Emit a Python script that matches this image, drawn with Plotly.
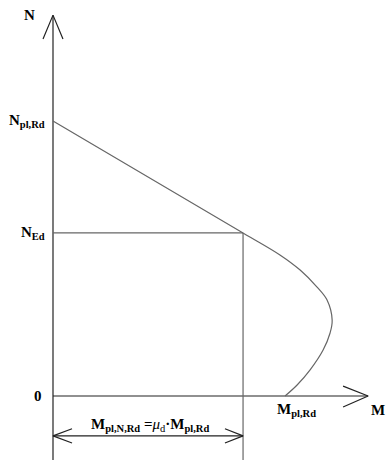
import plotly.graph_objects as go

# N-M interaction curve, normalised: M / Mpl,Rd and N / Npl,Rd
CURVE_M = [0.0, 0.819, 0.978, 1.065, 1.138, 1.181, 1.203, 1.194, 1.164, 1.108, 1.052, 1.0]
CURVE_N = [1.0, 0.593, 0.513, 0.458, 0.396, 0.349, 0.276, 0.229, 0.167, 0.095, 0.040, 0.0]
N_ED = 0.593          # design axial force
M_NRD = 0.819         # reduced plastic moment at N_ED
M_PL = 1.0
N_PL = 1.0

X_RANGE = [-0.2284, 1.435]
Y_RANGE = [-0.2327, 1.44]
N_TIP, M_TIP = 1.385, 1.358
DIM_N = -0.145

AX, LN = '#222222', '#666666'
FONT = 'Liberation Serif'

fig = go.Figure()


def seg(xs, ys, col=AX, w=1.2, shape='linear'):
    fig.add_trace(go.Scatter(x=xs, y=ys, mode='lines', line=dict(color=col, width=w, shape=shape),
                             hoverinfo='skip', showlegend=False))


# axes with open arrow heads
seg([0, 0], [Y_RANGE[0], N_TIP])
seg([-0.043, 0, 0.043], [1.298, N_TIP, 1.298])
seg([0, M_TIP], [0, 0])
seg([1.25, M_TIP, 1.25], [0.036, 0, -0.04])

# interaction curve
seg(CURVE_M, CURVE_N, col=LN, w=1.2, shape='spline')

# N_Ed level and M_pl,N,Rd drop line
seg([0, M_NRD], [N_ED, N_ED], col=LN)
seg([M_NRD, M_NRD], [N_ED, Y_RANGE[0]], col=LN)

# dimension line with arrows at both ends
seg([0, M_NRD], [DIM_N, DIM_N])
seg([0.082, 0, 0.082], [DIM_N + 0.026, DIM_N, DIM_N - 0.026])
seg([M_NRD - 0.078, M_NRD, M_NRD - 0.078], [DIM_N + 0.026, DIM_N, DIM_N - 0.026])


def label(x, y, text, xanchor='center', size=15):
    fig.add_annotation(x=x, y=y, text=text, showarrow=False, xanchor=xanchor, yanchor='middle',
                       font=dict(family=FONT, size=size, color='black'))


label(-0.07, 1.385, '<b>N</b>', xanchor='right')
label(-0.025, N_PL, '<b>N<sub>pl,Rd</sub></b>', xanchor='right')
label(-0.025, N_ED, '<b>N<sub>Ed</sub></b>', xanchor='right')
label(-0.04, 0, '<b>0</b>', xanchor='right')
label(M_PL + 0.05, -0.05, '<b>M<sub>pl,Rd</sub></b>')
label(1.362, -0.05, '<b>M</b>', xanchor='left')
label(M_NRD / 2 + 0.01, DIM_N + 0.04,
      '<b>M<sub>pl,N,Rd</sub> =</b><i>μ</i><sub>d</sub><b>·M<sub>pl,Rd</sub></b>', size=15)

fig.update_layout(width=386, height=460, margin=dict(l=0, r=0, t=0, b=0),
                  plot_bgcolor='white', paper_bgcolor='white',
                  xaxis=dict(visible=False, range=X_RANGE, fixedrange=True),
                  yaxis=dict(visible=False, range=Y_RANGE, fixedrange=True))
fig.write_html('out.html', config=dict(displayModeBar=False))

# drop the browser's default 8px body margin so the figure sits at the window corner
with open('out.html', encoding='utf-8') as f:
    page = f.read()
page = page.replace('<body>', '<body style="margin:0;overflow:hidden">', 1)
with open('out.html', 'w', encoding='utf-8') as f:
    f.write(page)
